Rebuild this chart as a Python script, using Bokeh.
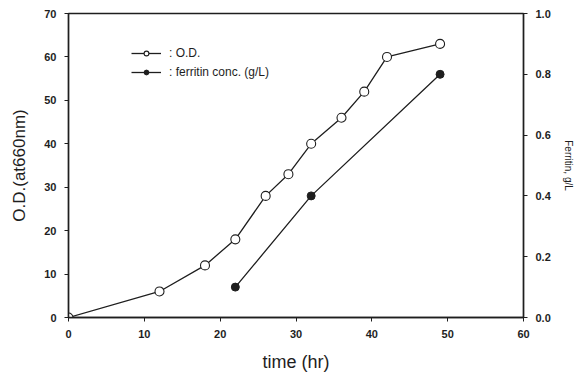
from bokeh.plotting import figure
from bokeh.models import LinearAxis, Range1d, FixedTicker, Legend, LegendItem, PrintfTickFormatter
from bokeh.embed import file_html
from bokeh.resources import INLINE

# Data
od_time = [0, 12, 18, 22, 26, 29, 32, 36, 39, 42, 49]
od_values = [0, 6, 12, 18, 28, 33, 40, 46, 52, 60, 63]
fer_time = [22, 32, 49]
fer_values = [0.1, 0.4, 0.8]
x_ticks = [0, 10, 20, 30, 40, 50, 60]
y_ticks = [0, 10, 20, 30, 40, 50, 60, 70]
y2_ticks = [0.0, 0.2, 0.4, 0.6, 0.8, 1.0]

FONT = "Liberation Sans"
INK = "#1e1e1e"

p = figure(width=576, height=376, output_backend="svg", toolbar_location=None,
           x_range=Range1d(0, 60), y_range=Range1d(0, 70),
           min_border_left=68, min_border_right=53, min_border_top=13, min_border_bottom=59)
p.extra_y_ranges = {"fer": Range1d(0, 1.0)}
p.xgrid.visible = False
p.ygrid.visible = False
p.outline_line_color = INK
p.outline_line_width = 1.3
p.background_fill_color = "white"
p.border_fill_color = "white"

def style_axis(ax, ticks):
    ax.ticker = FixedTicker(ticks=ticks)
    ax.axis_line_color = INK
    ax.axis_line_width = 1.5
    ax.major_tick_line_color = INK
    ax.major_tick_out = 4
    ax.major_tick_in = 0
    ax.minor_tick_line_color = None
    ax.major_label_text_font = FONT
    ax.major_label_text_font_size = "11px"
    ax.major_label_text_font_style = "bold"
    ax.major_label_text_color = INK
    ax.major_label_standoff = 8
    ax.axis_label_text_font = FONT
    ax.axis_label_text_font_style = "normal"
    ax.axis_label_text_color = INK

style_axis(p.xaxis[0], x_ticks)
p.xaxis[0].axis_label = "time (hr)"
p.xaxis[0].axis_label_text_font_size = "18px"
p.xaxis[0].axis_label_standoff = 11

style_axis(p.yaxis[0], y_ticks)
p.yaxis[0].axis_label = "O.D.(at660nm)"
p.yaxis[0].axis_label_text_font_size = "17px"
p.yaxis[0].axis_label_standoff = 12

ax2 = LinearAxis(y_range_name="fer")
style_axis(ax2, y2_ticks)
ax2.formatter = PrintfTickFormatter(format="%.1f")
ax2.axis_label = "Ferritin, g/L"
ax2.axis_label_text_font_size = "10px"
ax2.axis_label_standoff = 9
p.add_layout(ax2, "right")

l1 = p.line(od_time, od_values, line_color=INK, line_width=1.3)
m1 = p.scatter(od_time, od_values, marker="circle", size=9, fill_color="white",
               line_color=INK, line_width=1.1)
l2 = p.line(fer_time, fer_values, y_range_name="fer", line_color=INK, line_width=1.3)
m2 = p.scatter(fer_time, fer_values, y_range_name="fer", marker="circle", size=8,
               fill_color=INK, line_color=INK, line_width=1.0)

legend = Legend(items=[
    LegendItem(label=": O.D.", renderers=[l1, m1]),
    LegendItem(label=": ferritin conc. (g/L)", renderers=[l2, m2]),
], location=(58, 232))
legend.margin = 0
legend.padding = 5
legend.spacing = 3
legend.glyph_width = 30
legend.glyph_height = 12
legend.label_height = 16
legend.label_standoff = 8
legend.label_text_font = FONT
legend.label_text_font_size = "12px"
legend.label_text_color = INK
legend.border_line_alpha = 0
legend.background_fill_alpha = 0
p.add_layout(legend)

open("out.html", "w").write(file_html(p, INLINE))
